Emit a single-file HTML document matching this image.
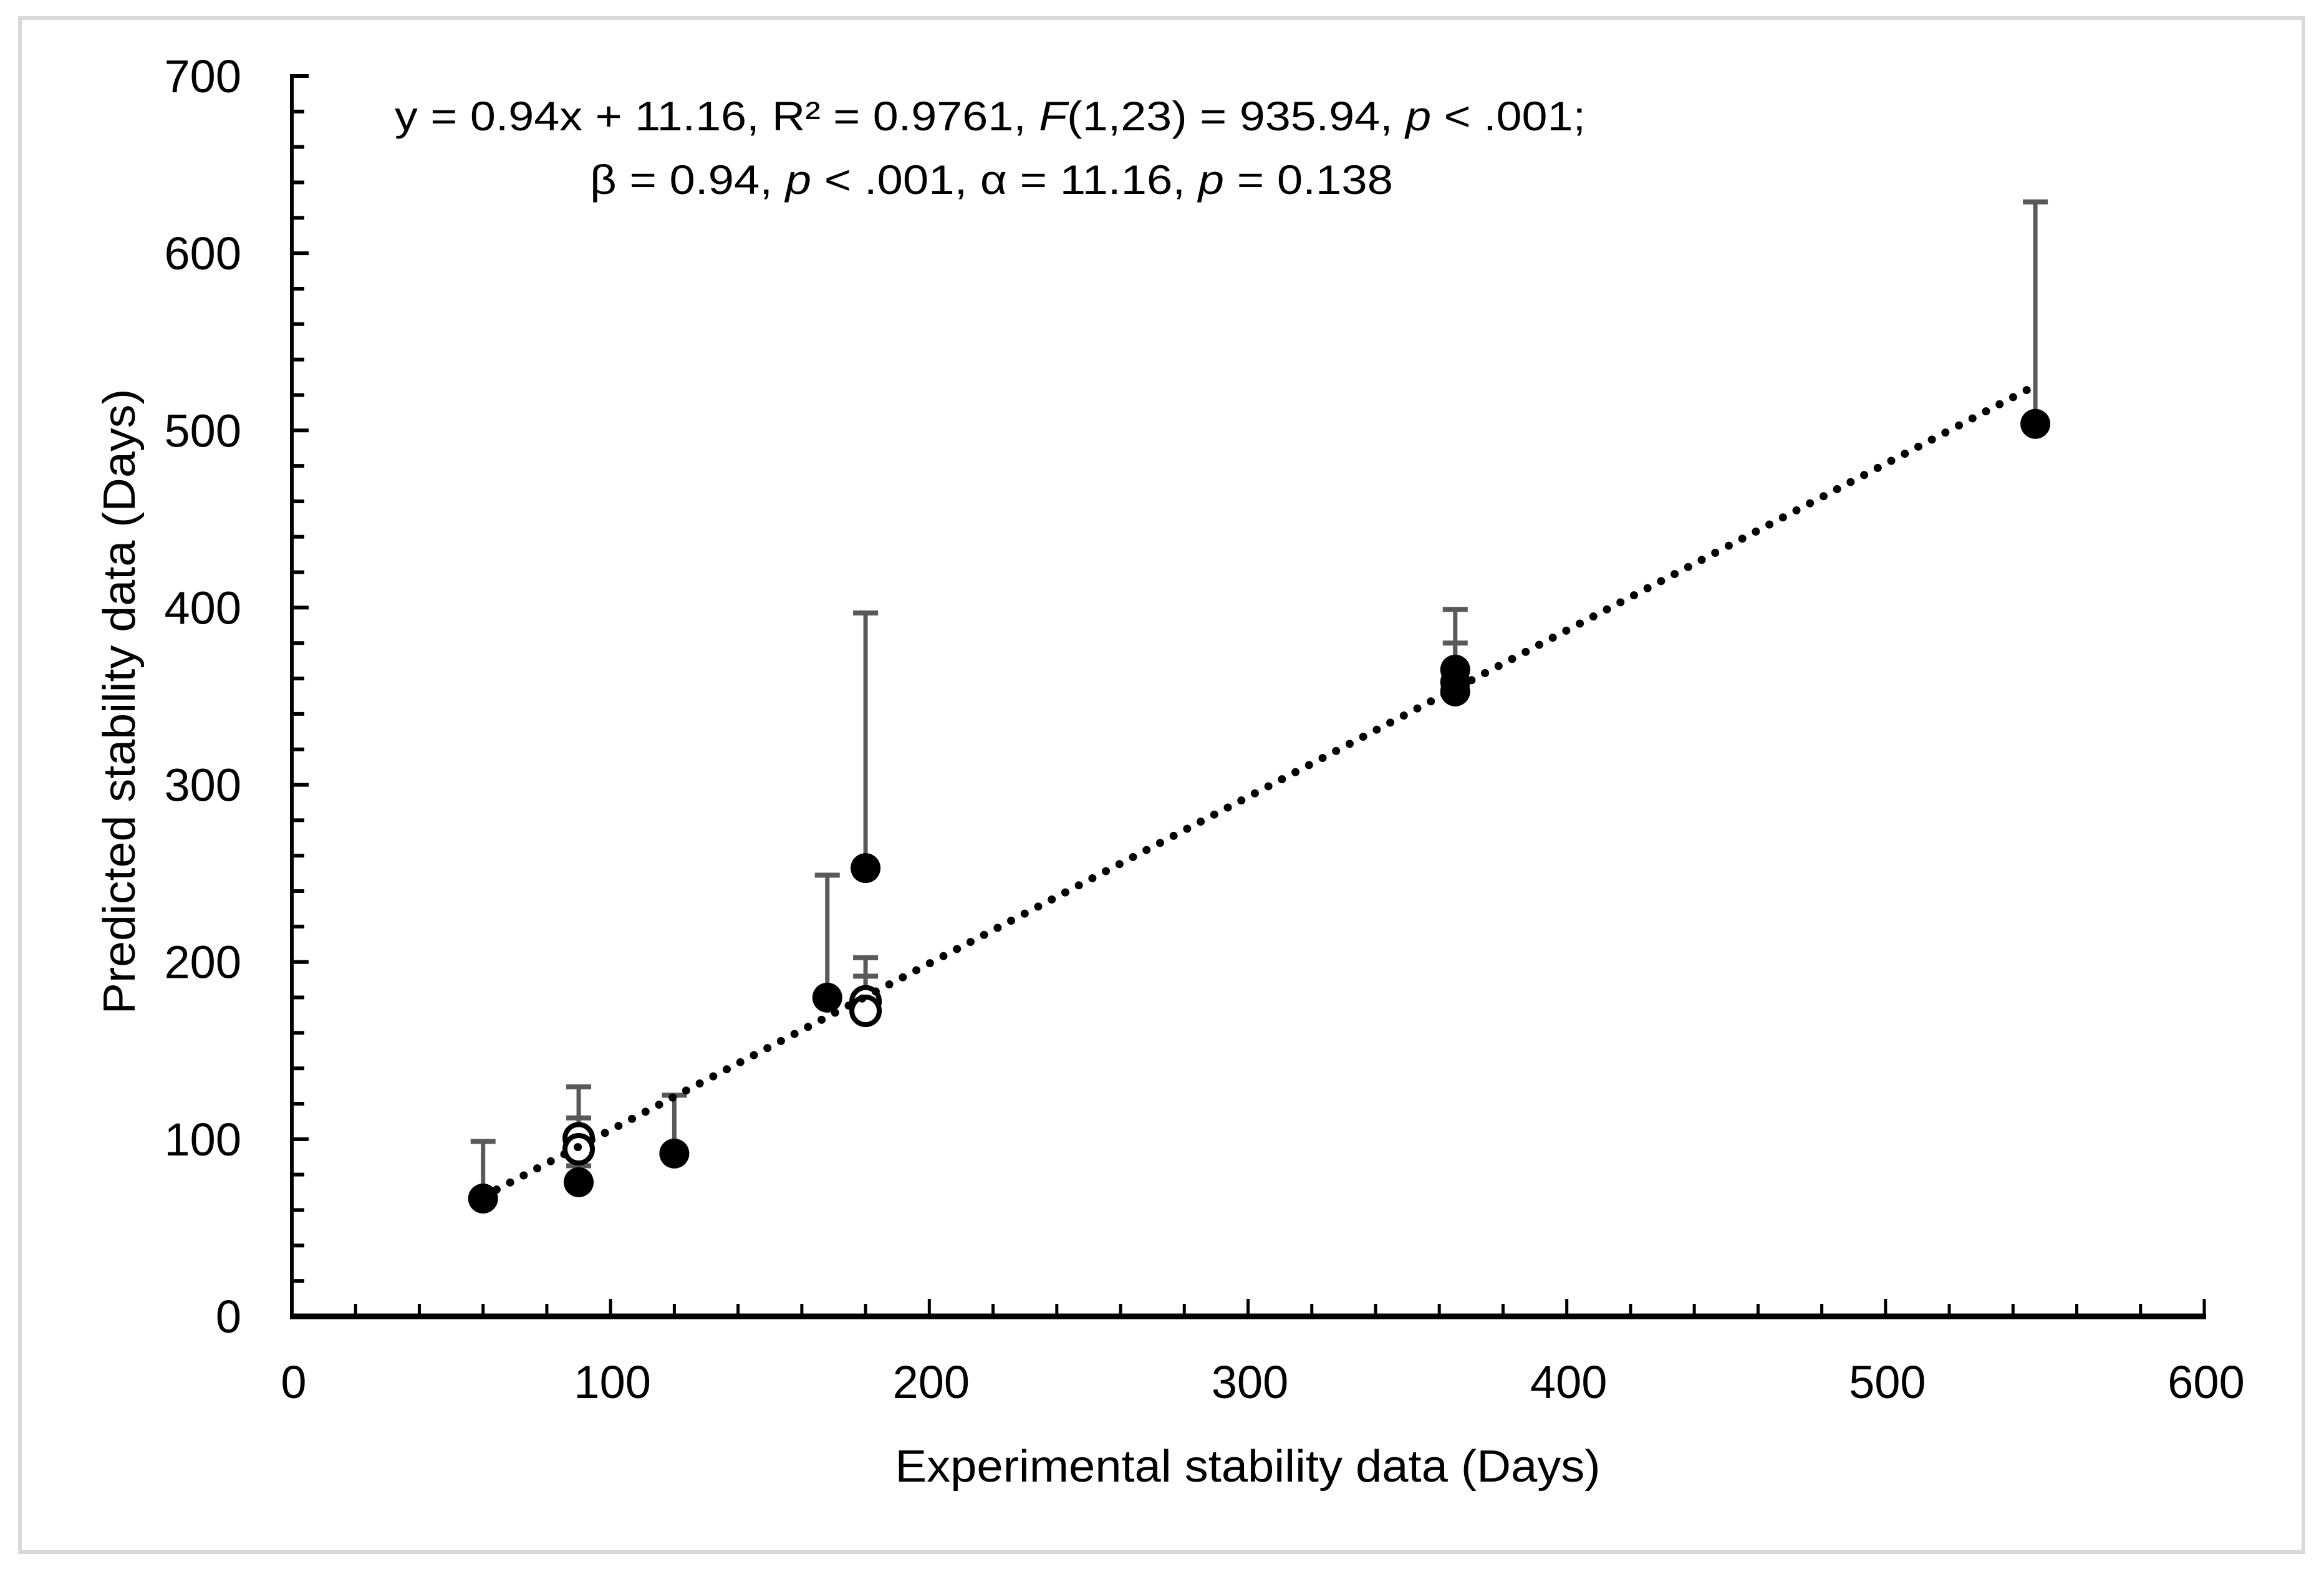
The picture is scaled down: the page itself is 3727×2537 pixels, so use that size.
<!DOCTYPE html>
<html><head><meta charset="utf-8"><style>html,body{margin:0;padding:0;background:#fff}svg{display:block}</style></head>
<body>
<svg id="chart" xmlns="http://www.w3.org/2000/svg" width="3727" height="2537" viewBox="0 0 3727 2537" font-family="'Liberation Sans', sans-serif">
<rect x="32" y="29" width="3662" height="2460" fill="#fff" stroke="#d9d9d9" stroke-width="6"/>
<g id="axes"></g>
<g id="errs"></g>
<g id="marks"></g>
<g id="trend"></g>
<text x="1588" y="209" font-size="66" text-anchor="middle" textLength="1910" lengthAdjust="spacingAndGlyphs">y = 0.94x + 11.16, R² = 0.9761, <tspan font-style="italic">F</tspan>(1,23) = 935.94, <tspan font-style="italic">p</tspan> &lt; .001;</text>
<text x="1590" y="311" font-size="66" text-anchor="middle" textLength="1288" lengthAdjust="spacingAndGlyphs">β = 0.94, <tspan font-style="italic">p</tspan> &lt; .001, α = 11.16, <tspan font-style="italic">p</tspan> = 0.138</text>
<text x="2001" y="2376" font-size="72" text-anchor="middle" textLength="1131" lengthAdjust="spacingAndGlyphs">Experimental stability data (Days)</text>
<text transform="translate(216,1125) rotate(-90)" font-size="72" text-anchor="middle" textLength="1003" lengthAdjust="spacingAndGlyphs">Predicted stability data (Days)</text>
</svg>
<script>
const xTicks = [0,100,200,300,400,500,600];
const yTicks = [0,100,200,300,400,500,600,700];
const filledX = [60, 90, 120, 168, 180, 365, 365, 365, 547];
const filledY = [66.5, 75.7, 91.9, 179.9, 253, 365, 358, 352.7, 503.7];
const filledErr = [98.7, 85, 124.8, 249, 397, 399, 380, 366, 629];
const openX = [90, 90, 180, 180];
const openY = [100.5, 94.3, 177.8, 172.4];
const openErr = [129.5, 112, 202.4, 192];
const trendSlope = 0.94;
const trendIntercept = 11.16;
const trendRange = [60, 547];

const NS = 'http://www.w3.org/2000/svg';
const X0 = 468, X1 = 3535, Y0 = 2111, Y1 = 122;
function sx(v){ return X0 + (v - 0) / 600 * (X1 - X0); }
function sy(v){ return Y0 - (v - 0) / 700 * (Y0 - Y1); }
function mk(tag, attrs, parent){
  const e = document.createElementNS(NS, tag);
  for (const k in attrs) e.setAttribute(k, attrs[k]);
  parent.appendChild(e);
  return e;
}
const axes = document.getElementById('axes');
const errs = document.getElementById('errs');
const marks = document.getElementById('marks');
const trend = document.getElementById('trend');

let l = mk('line', {x1: X0, y1: Y1 - 3, x2: X0, y2: Y0 + 4, stroke: '#000', 'stroke-width': 6}, axes);


for (let v = 0; v <= 700; v += 20) {
  const major = v % 100 === 0;
  const t = mk('line', {x1: X0, y1: sy(v), x2: X0 + (major ? 27 : 20), y2: sy(v), stroke: '#000', 'stroke-width': 6}, axes);
  
  
}
yTicks.forEach(v => {
  const t = mk('text', {x: 387, y: sy(v) + 26, 'font-size': 74, 'text-anchor': 'end'}, axes);
  t.textContent = v;
  
  
});
l = mk('line', {x1: X0 - 3, y1: Y0, x2: X1 + 3, y2: Y0, stroke: '#000', 'stroke-width': 9}, axes);


for (let v = 0; v <= 600; v += 20) {
  const major = v % 100 === 0;
  const t = mk('line', {x1: sx(v), y1: Y0, x2: sx(v), y2: Y0 - (major ? 28 : 20), stroke: '#000', 'stroke-width': 5}, axes);
  
  
}
xTicks.forEach(v => {
  const t = mk('text', {x: sx(v) + 3, y: 2242, 'font-size': 74, 'text-anchor': 'middle'}, axes);
  t.textContent = v;
  
  
});

function errBar(x, y, top){
  const g = mk('g', {}, errs);
  
  
  mk('line', {x1: sx(x), y1: sy(y), x2: sx(x), y2: sy(top), stroke: '#595959', 'stroke-width': 7}, g);
  mk('line', {x1: sx(x) - 20, y1: sy(top), x2: sx(x) + 20, y2: sy(top), stroke: '#595959', 'stroke-width': 8}, g);
}
filledX.forEach((x, i) => errBar(x, filledY[i], filledErr[i]));
openX.forEach((x, i) => errBar(x, openY[i], openErr[i]));

filledX.forEach((x, i) => {
  const c = mk('circle', {cx: sx(x), cy: sy(filledY[i]), r: 24, fill: '#000'}, marks);
  
  
});
openX.forEach((x, i) => {
  const c = mk('circle', {cx: sx(x), cy: sy(openY[i]), r: 22, fill: '#fff', stroke: '#000', 'stroke-width': 8}, marks);
  
  
});

const tl = mk('line', {
  x1: sx(trendRange[0]), y1: sy(trendSlope * trendRange[0] + trendIntercept),
  x2: sx(trendRange[1]), y2: sy(trendSlope * trendRange[1] + trendIntercept),
  stroke: '#000', 'stroke-width': 13, 'stroke-linecap': 'round', 'stroke-dasharray': '0 24.5'
}, trend);


</script>
</body></html>
